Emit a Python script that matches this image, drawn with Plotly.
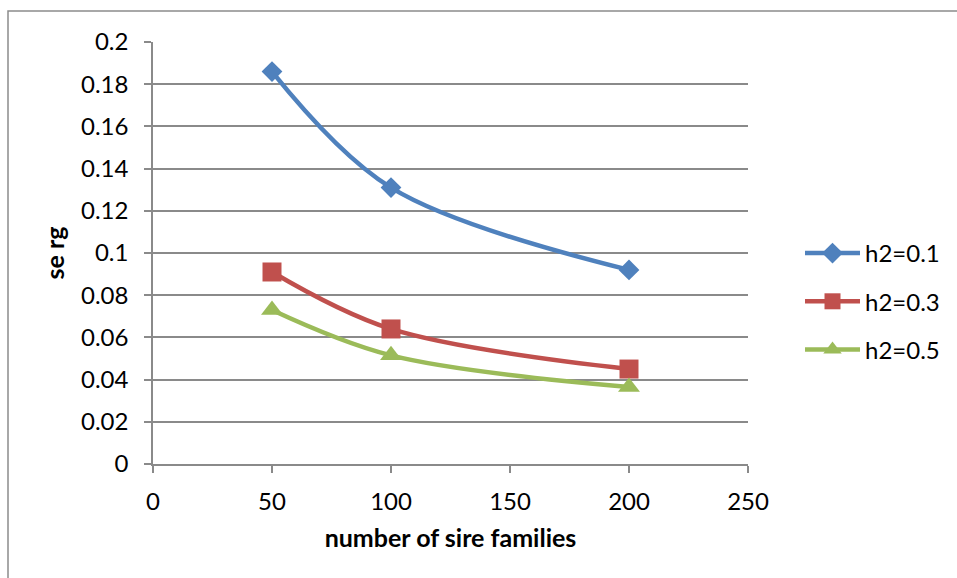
import plotly.graph_objects as go

# Number of sire families (x) and standard error of the genetic correlation (y)
sire_families = [50, 100, 200]
se_h2_01 = [0.186, 0.131, 0.092]
se_h2_03 = [0.091, 0.064, 0.045]
se_h2_05 = [0.073, 0.0515, 0.0365]
series_names = ["h2=0.1", "h2=0.3", "h2=0.5"]
x_ticks = [0, 50, 100, 150, 200, 250]
y_ticks = [0, 0.02, 0.04, 0.06, 0.08, 0.1, 0.12, 0.14, 0.16, 0.18, 0.2]

W, H = 957, 578
L, R, T, B = 153, 748, 42, 464

FONT = "Lato, Calibri, Carlito, sans-serif"
GRID = "#8a8a8a"

styles = [
    ("#4F81BD", "diamond", 16),
    ("#C0504D", "square", 19),
    ("#9BBB59", "triangle-up", 19),
]

fig = go.Figure()
for i, (name, ys, (color, sym, size)) in enumerate(
        zip(series_names, [se_h2_01, se_h2_03, se_h2_05], styles)):
    fig.add_trace(go.Scatter(
        x=sire_families, y=ys, name=name, mode="lines+markers",
        legendgroup=f"g{i}",
        line=dict(color=color, width=4.5, shape="spline", smoothing=1),
        marker=dict(symbol=sym, size=size, color=color, line=dict(width=0)),
    ))

def px_to_paper_x(px):
    return (px - L) / (R - L)

def px_to_paper_y(py):
    return (B - py) / (B - T)

# outer chart border (runs off the right and bottom edges)
fig.add_shape(type="rect", xref="paper", yref="paper",
              x0=px_to_paper_x(8), x1=px_to_paper_x(W + 5),
              y0=px_to_paper_y(H + 5), y1=px_to_paper_y(11),
              line=dict(color="#8c8c8c", width=1.5), fillcolor="rgba(0,0,0,0)",
              layer="below")

fig.update_layout(
    width=W, height=H,
    margin=dict(l=L, r=W - R, t=T, b=H - B, pad=0),
    paper_bgcolor="white", plot_bgcolor="white",
    font=dict(family=FONT, size=24, color="black"),
    showlegend=True,
    legend=dict(x=px_to_paper_x(800), y=px_to_paper_y(231), xanchor="left", yanchor="top",
                font=dict(size=24), itemwidth=55, tracegroupgap=14,
                bgcolor="rgba(0,0,0,0)"),
    xaxis=dict(
        range=[0, 250], tickvals=x_ticks, ticktext=[str(v) for v in x_ticks],
        showgrid=False, zeroline=False,
        showline=True, linecolor=GRID, linewidth=1.5,
        ticks="outside", ticklen=7, tickcolor=GRID, tickwidth=1.5,
        ticklabelstandoff=8,
        title=dict(text="<b>number of sire families</b>", standoff=16,
                   font=dict(size=25)),
    ),
    yaxis=dict(
        range=[0, 0.2], tickvals=y_ticks,
        ticktext=["0" if v == 0 else ("%g" % v) for v in y_ticks],
        showgrid=True, gridcolor=GRID, gridwidth=1.5,
        zeroline=False,
        showline=True, linecolor=GRID, linewidth=1.5,
        ticks="outside", ticklen=7, tickcolor=GRID, tickwidth=1.5,
        ticklabelstandoff=11,
        title=dict(text="<b>se rg</b>", standoff=9, font=dict(size=25)),
    ),
)

fig.write_html("out.html")
